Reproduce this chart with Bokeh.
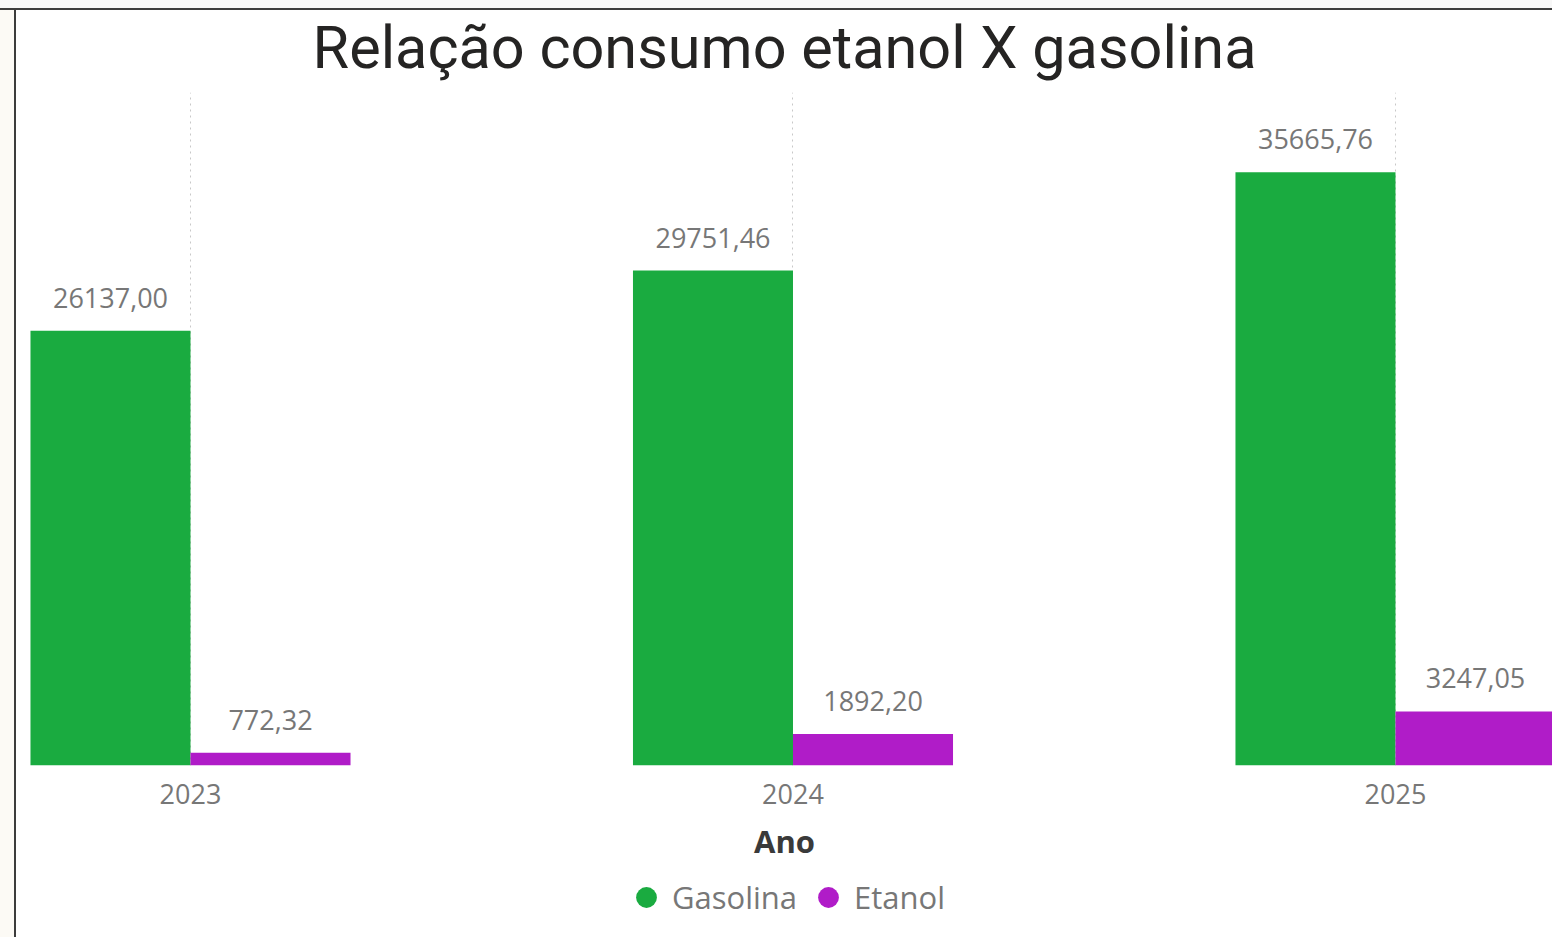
from bokeh.plotting import figure
from bokeh.layouts import column
from bokeh.models import FixedTicker, Range1d, Legend, LegendItem, ColumnDataSource
from bokeh.transform import dodge
from bokeh.core.properties import value
from bokeh.embed import file_html
from bokeh.resources import INLINE

anos = ["2023", "2024", "2025"]
gasolina = [26137.00, 29751.46, 35665.76]
etanol = [772.32, 1892.20, 3247.05]
series = ["Gasolina", "Etanol"]
cores = ["#1AAB40", "#B01CC8"]

idx = list(range(len(anos)))


def fmt(v):
    return f"{v:.2f}".replace(".", ",")


src = ColumnDataSource(dict(
    x=idx, gas=gasolina, eta=etanol,
    gl=[fmt(v) for v in gasolina], el=[fmt(v) for v in etanol],
))

BW = 0.2656
LEFT_BG = "linear-gradient(to right, #fcfaf5 0px, #fcfaf5 14px, #3c3c3c 14px, #3c3c3c 16px, white 16px)"

p = figure(frame_width=1536, frame_height=673,
           x_range=Range1d(-0.2888, 2.2606), y_range=Range1d(0, 40452),
           output_backend="svg", toolbar_location=None, y_axis_location=None,
           min_border_left=16, min_border_right=0, min_border_top=0, min_border_bottom=100)
p.styles = {
    "background": ("linear-gradient(to bottom, #f7f7f7 0px, #f7f7f7 8px, #3c3c3c 8px, #3c3c3c 10px, transparent 10px), "
                   + LEFT_BG),
}
p.outline_line_color = None
p.background_fill_color = "white"
p.border_fill_color = None

p.title.text = "Relação consumo etanol X gasolina"
p.title.align = "center"
p.title.text_font = "Roboto"
p.title.text_font_size = "59.4px"
p.title.text_font_style = "normal"
p.title.text_color = "#252423"
p.title.standoff = 20

p.vbar(x=dodge("x", -BW / 2), top="gas", width=BW, source=src, fill_color=cores[0], line_color=None)
p.vbar(x=dodge("x", BW / 2), top="eta", width=BW, source=src, fill_color=cores[1], line_color=None)

lab = dict(text_align="center", text_baseline="middle", y_offset=-33,
           text_font=value("Open Sans"), text_font_size="27px", text_color="#777777")
p.text(x=dodge("x", -BW / 2), y="gas", text="gl", source=src, **lab)
p.text(x=dodge("x", BW / 2), y="eta", text="el", source=src, **lab)

p.xgrid.ticker = FixedTicker(ticks=idx)
p.xgrid.grid_line_dash = "dotted"
p.xgrid.grid_line_color = "#c8c8c8"
p.ygrid.visible = False

ax = p.xaxis[0]
ax.ticker = FixedTicker(ticks=idx)
ax.major_label_overrides = {i: a for i, a in zip(idx, anos)}
ax.axis_line_color = None
ax.major_tick_line_color = None
ax.minor_tick_line_color = None
ax.major_label_standoff = 12
ax.major_label_text_font = "Open Sans"
ax.major_label_text_font_size = "27px"
ax.major_label_text_color = "#777777"
ax.axis_label = "Ano"
ax.axis_label_text_font = "Open Sans"
ax.axis_label_text_font_size = "31px"
ax.axis_label_text_font_style = "bold"
ax.axis_label_text_color = "#3a3a3a"
ax.axis_label_standoff = 13

# legend strip below the chart
lg = figure(width=1552, height=72, x_range=Range1d(0, 1), y_range=Range1d(0, 1),
            output_backend="svg", toolbar_location=None,
            x_axis_location=None, y_axis_location=None,
            min_border_left=0, min_border_right=0, min_border_top=0, min_border_bottom=0)
lg.styles = {"background": LEFT_BG}
lg.outline_line_color = None
lg.background_fill_color = None
lg.border_fill_color = None
lg.grid.visible = False

nan = float("nan")
r_g = lg.scatter(x=[nan], y=[nan], marker="circle", fill_color=cores[0], line_color=None)
r_e = lg.scatter(x=[nan], y=[nan], marker="circle", fill_color=cores[1], line_color=None)
legend = Legend(items=[LegendItem(label=series[0], renderers=[r_g]),
                       LegendItem(label=series[1], renderers=[r_e])],
                orientation="horizontal", location=(604, 11),
                glyph_width=52, glyph_height=58, label_standoff=0, spacing=5,
                padding=0, margin=0, border_line_color=None, background_fill_color=None,
                label_text_font="Open Sans", label_text_font_size="31px",
                label_text_color="#777777")
lg.add_layout(legend, "center")

layout = column(p, lg, spacing=0)
open("out.html", "w").write(file_html(layout, INLINE))
